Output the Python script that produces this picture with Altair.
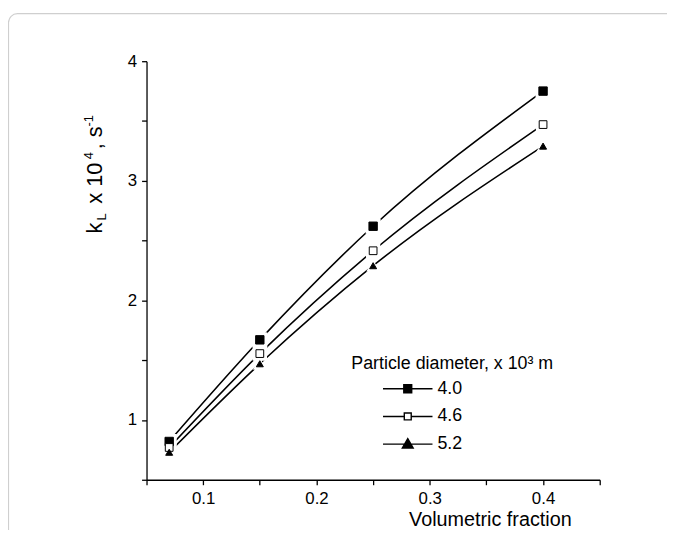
import altair as alt
import pandas as pd

# ---- data ----
fraction = [0.07, 0.15, 0.25, 0.40]
series_names = ["4.0", "4.6", "5.2"]
kl_40 = [0.82, 1.67, 2.62, 3.75]
kl_46 = [0.77, 1.555, 2.415, 3.47]
kl_52 = [0.73, 1.47, 2.29, 3.29]
x_tick_values = [0.05, 0.10, 0.15, 0.20, 0.25, 0.30, 0.35, 0.40, 0.45]
y_tick_values = [0.5, 1.0, 1.5, 2.0, 2.5, 3.0, 3.5, 4.0]

rows = []
for name, vals in zip(series_names, [kl_40, kl_46, kl_52]):
    for fx, v in zip(fraction, vals):
        rows.append({"x": fx, "y": v, "d": name, "series": name})
df = pd.DataFrame(rows)

FONT = "Liberation Sans, Arial, sans-serif"

xs = alt.Scale(domain=[0.05, 0.45], nice=False, zero=False)
ys = alt.Scale(domain=[0.5, 4.0], nice=False, zero=False)

axis_style = dict(
    grid=False, domainColor="black", tickColor="black", labelColor="black",
    titleColor="black", domainWidth=1.3, tickWidth=1.3, labelFlush=False,
    labelFont=FONT, labelFontSize=17, tickSize=5,
)
x_axis = alt.Axis(
    values=x_tick_values,
    labelExpr="abs(datum.value*10 - round(datum.value*10)) < 0.001 ? format(datum.value, '.1f') : ''",
    title="Volumetric fraction", titleX=347, titleY=46, titleBaseline="alphabetic",
    titleAlign="center", titleFont=FONT, titleFontSize=20, titleFontWeight="normal",
    labelPadding=6, **axis_style,
)
y_axis = alt.Axis(
    values=y_tick_values,
    labelExpr="abs(datum.value - round(datum.value)) < 0.001 ? format(datum.value, 'd') : ''",
    title=None, labelPadding=5, **axis_style,
)

base = alt.Chart(df)
X = alt.X("x:Q", scale=xs, axis=x_axis)
Y = alt.Y("y:Q", scale=ys, axis=y_axis)

lines = base.mark_line(color="black", strokeWidth=1.6, interpolate="monotone").encode(
    x=X, y=Y, detail="d:N",
)

shape_scale = alt.Scale(domain=series_names, range=["square", "square", "triangle-up"])
halo = base.mark_point(filled=True, color="white", opacity=1).encode(
    x=X, y=Y,
    shape=alt.Shape("d:N", scale=shape_scale, legend=None),
    size=alt.Size("d:N", scale=alt.Scale(domain=series_names, range=[230, 190, 400]), legend=None),
)
markers = base.mark_point(filled=True, stroke="black", strokeWidth=1, opacity=1).encode(
    x=X, y=Y,
    shape=alt.Shape("d:N", scale=shape_scale, legend=None),
    fill=alt.Fill("d:N", scale=alt.Scale(domain=series_names, range=["black", "white", "black"]), legend=None),
    size=alt.Size("d:N", scale=alt.Scale(domain=series_names, range=[72, 50, 200]), legend=None),
)

legend_paths = [
    "M-2.5,0H2.5M-0.4,-0.4H0.4V0.4H-0.4Z",
    "M-2.5,0H-0.35M0.35,0H2.5M-0.35,-0.35H0.35V0.35H-0.35Z",
    "M-2.5,0H2.5M0,-0.55L0.55,0.4H-0.55Z",
]
legend_layer = base.mark_point(filled=True, opacity=0, strokeWidth=1.4).encode(
    x=X, y=Y,
    shape=alt.Shape("series:N", scale=alt.Scale(domain=series_names, range=legend_paths),
                    legend=alt.Legend(
                        title="Particle diameter, x 10\u00b3 m", orient="none",
                        legendX=207, legendY=297, padding=0,
                        titleFont=FONT, titleFontSize=18, titleFontWeight="normal",
                        titleColor="black", titlePadding=5, titleLimit=400,
                        labelFont=FONT, labelFontSize=18, labelColor="black",
                        symbolSize=400, symbolOffset=46, labelOffset=19,
                        symbolOpacity=1, symbolStrokeColor="black", symbolStrokeWidth=1.4,
                        rowPadding=8,
                    )),
    fill=alt.Fill("series:N", scale=alt.Scale(domain=series_names, range=["black", "white", "black"])),
    stroke=alt.Stroke("series:N", scale=alt.Scale(domain=series_names, range=["black", "black", "black"])),
)

# y axis title pieces: k_L x 10^4, s^-1
ttl = pd.DataFrame({"t": [0]})
def piece(txt, size, bx, sy):
    return alt.Chart(ttl).mark_text(angle=270, align="left", baseline="alphabetic",
                                    fontSize=size, font=FONT, color="black").encode(
        text=alt.value(txt), x=alt.value(bx), y=alt.value(sy))

t_k = piece("k", 22, -45, 174)
t_L = piece("L", 13, -41, 161)
t_x = piece("x 10", 22, -45, 144)
t_4 = piece("4", 13, -54, 99)
t_s = piece(", s", 22, -45, 89)
t_m1 = piece("-1", 13, -54, 66)

frame = alt.Chart(ttl).mark_rect(fillOpacity=0, stroke="#cfcfcf", strokeWidth=1.2, cornerRadius=9).encode(
    x=alt.value(-139.5), x2=alt.value(620), y=alt.value(-48), y2=alt.value(560))

chart = alt.layer(frame, lines, halo, markers, legend_layer, t_k, t_L, t_x, t_4, t_s, t_m1).resolve_scale(
    shape="independent", fill="independent", size="independent", stroke="independent"
).properties(
    width=458, height=423,
    autosize=alt.AutoSizeParams(type="none"),
    padding={"left": 140, "top": 51, "right": 68, "bottom": 48},
    background="white",
).configure_view(stroke=None).configure_axis(
    grid=False, domainColor="black", tickColor="black", labelColor="black",
    titleColor="black", labelFont=FONT, labelFontSize=17, titleFont=FONT,
    titleFontSize=20, titleFontWeight="normal",
)

chart.save("out.html", embed_options={"renderer": "svg", "actions": False})
